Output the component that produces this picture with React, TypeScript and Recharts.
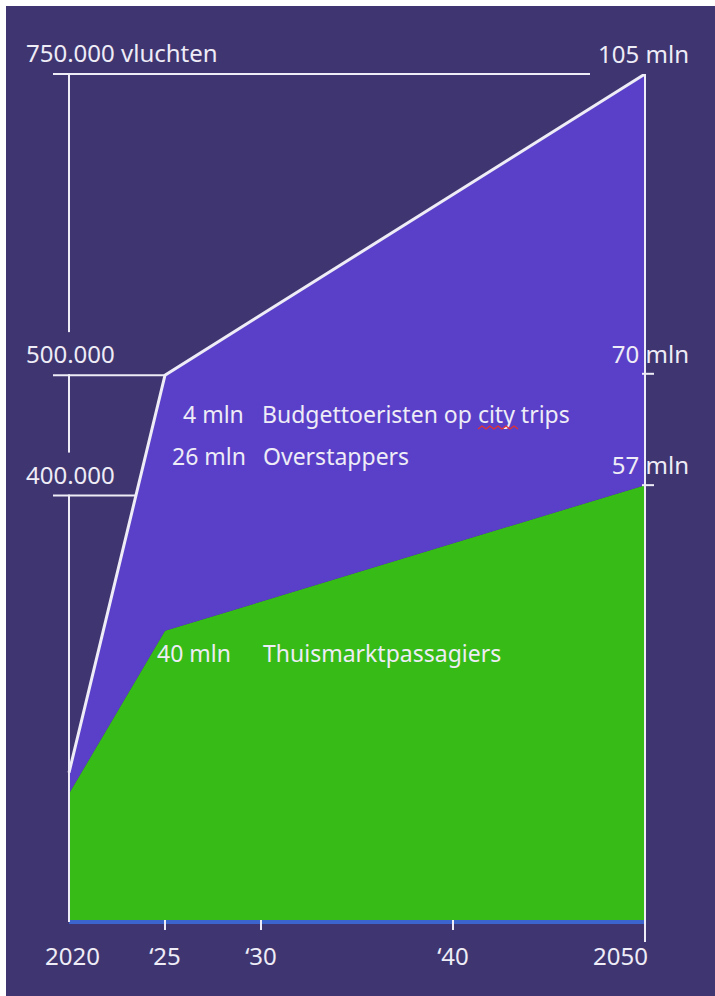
import React from "react"
import { ComposedChart, Area, Line, XAxis, YAxis } from "recharts"

// passengers (mln) and flights per year
const years = [2020, 2025, 2050]
const thuismarkt = [21, 40, 57]
const overstapBudget = [2.5, 30, 48]
const flights = [170000, 500000, 750000]

const xTicks = [2020, 2025, 2030, 2040, 2050]
const xTickLabels = ["2020", "\u201825", "\u201830", "\u201840", "2050"]
const flightTicks = [400000, 500000, 750000]
const flightTickLabels = ["400.000", "500.000", "750.000 vluchten"]
const paxTicks = [57, 70, 105]
const paxTickLabels = ["57 mln", "70 mln", "105 mln"]

const data = years.map((year, i) => ({
  year,
  thuismarkt: thuismarkt[i],
  overstapBudget: overstapBudget[i],
  flights: flights[i],
}))

const BG = "#3f3671"
const PURPLE = "#5a40c8"
const GREEN = "#37bc17"
const WHITE = "#eeecf6"
const BLUE = "#3b64cc"
const FONT = "'Noto Sans', sans-serif"
const FS = 24

// how far each flight tick line runs to the right of the axis
const flightTickReach = [67, 96, 521]

function FlightTick(props: any) {
  const { x, y, payload } = props
  const i = flightTicks.indexOf(payload.value)
  return (
    <g>
      {i < 2 && <rect x={x - 3} y={y - 43} width={6} height={42} fill={BG} />}
      <line x1={x - 16} x2={x + flightTickReach[i]} y1={y} y2={y} stroke={WHITE} strokeWidth={2} />
      <text x={x - 43} y={y - 12} fill={WHITE} fontSize={FS} fontFamily={FONT}>
        {flightTickLabels[i]}
      </text>
    </g>
  )
}

function PaxTick(props: any) {
  const { x, y, payload } = props
  const i = paxTicks.indexOf(payload.value)
  return (
    <g>
      {i < 2 && <line x1={x - 3} x2={x + 9} y1={y} y2={y} stroke={WHITE} strokeWidth={2} />}
      <text x={x + 44} y={y - 11} textAnchor="end" fill={WHITE} fontSize={FS} fontFamily={FONT}>
        {paxTickLabels[i]}
      </text>
    </g>
  )
}

function YearTick(props: any) {
  const { x, y, payload } = props
  const i = xTicks.indexOf(payload.value)
  const first = i === 0
  const last = i === xTicks.length - 1
  return (
    <g>
      {!first && (
        <line x1={x} x2={x} y1={last ? y : y - 2} y2={last ? y + 20 : y + 8} stroke={WHITE} strokeWidth={2} />
      )}
      <text
        x={first ? x - 24 : last ? x + 3 : x}
        y={y + 43}
        textAnchor={first ? "start" : last ? "end" : "middle"}
        fill={WHITE}
        fontSize={FS}
        fontFamily={FONT}
      >
        {xTickLabels[i]}
      </text>
    </g>
  )
}

// spell-check squiggle under "city"
const squiggle = Array.from({ length: 11 }, (_, k) => `${472 + k * 4},${k % 2 ? 420 : 423}`).join(" ")

function Annotations() {
  return (
    <svg
      width={709}
      height={990}
      style={{ position: "absolute", left: 0, top: 0, pointerEvents: "none" }}
    >
      <g fill={WHITE} fontSize={23} fontFamily={FONT}>
        <text x={177} y={417}>4 mln</text>
        <text x={256} y={417}>Budgettoeristen op city trips</text>
        <text x={166} y={459}>26 mln</text>
        <text x={257} y={459}>Overstappers</text>
        <text x={151} y={656}>40 mln</text>
        <text x={257} y={656}>Thuismarktpassagiers</text>
      </g>
      <polyline points={squiggle} fill="none" stroke="#e53030" strokeWidth={1.3} />
    </svg>
  )
}

export default function App() {
  return (
    <div style={{ position: "absolute", left: 6, top: 6, width: 709, height: 990, background: BG }}>
      <ComposedChart width={709} height={990} data={data} margin={{ top: 68, right: 69, bottom: 73, left: 62 }}>
        <Area
          yAxisId="pax"
          type="linear"
          dataKey="thuismarkt"
          stackId="p"
          stroke="none"
          fill={GREEN}
          fillOpacity={1}
          isAnimationActive={false}
        />
        <Area
          yAxisId="pax"
          type="linear"
          dataKey="overstapBudget"
          stackId="p"
          stroke="none"
          fill={PURPLE}
          fillOpacity={1}
          isAnimationActive={false}
        />
        <Line
          yAxisId="flights"
          type="linear"
          dataKey="flights"
          stroke={WHITE}
          strokeWidth={3}
          dot={false}
          isAnimationActive={false}
        />
        <XAxis
          dataKey="year"
          type="number"
          domain={[2020, 2050]}
          ticks={xTicks}
          interval={0}
          height={1}
          tickSize={0}
          tickMargin={0}
          tickLine={false}
          axisLine={{ stroke: BLUE, strokeWidth: 4 }}
          tick={<YearTick />}
        />
        <YAxis
          yAxisId="flights"
          orientation="left"
          type="number"
          domain={[46000, 750000]}
          allowDataOverflow
          ticks={flightTicks}
          interval={0}
          width={1}
          tickSize={0}
          tickMargin={0}
          tickLine={false}
          axisLine={{ stroke: WHITE, strokeWidth: 2 }}
          tick={<FlightTick />}
        />
        <YAxis
          yAxisId="pax"
          orientation="right"
          type="number"
          domain={[6, 105]}
          allowDataOverflow
          ticks={paxTicks}
          interval={0}
          width={1}
          tickSize={0}
          tickMargin={0}
          tickLine={false}
          axisLine={{ stroke: WHITE, strokeWidth: 2 }}
          tick={<PaxTick />}
        />
      </ComposedChart>
      <Annotations />
    </div>
  )
}
